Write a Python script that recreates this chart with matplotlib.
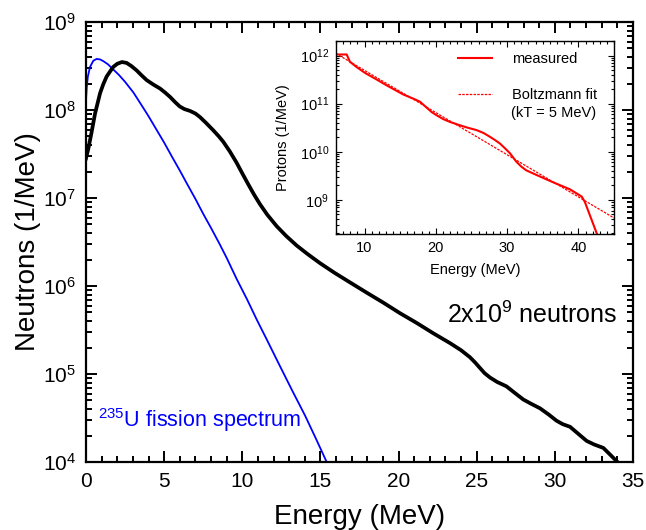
import matplotlib
matplotlib.use('Agg')
import numpy as np
import matplotlib.pyplot as plt
from matplotlib.ticker import MultipleLocator, LogLocator, NullFormatter

plt.rcParams['font.family'] = 'Liberation Sans'
plt.rcParams['mathtext.fontset'] = 'custom'
plt.rcParams['mathtext.rm'] = 'Liberation Sans'
plt.rcParams['mathtext.it'] = 'Liberation Sans:italic'

# measured neutron spectrum (black), values read as log10(neutrons/MeV)
neutron_e = [0.0, 0.15, 0.35, 0.58, 0.9, 1.1, 1.32, 1.55, 1.75, 2.0, 2.3, 2.6, 2.9,
             3.24, 3.55, 3.88, 4.3, 4.73, 5.05, 5.37, 5.7, 6.0, 6.3, 6.65, 7.0,
             7.29, 7.7, 8.14, 8.5, 8.78, 9.2, 9.64, 10.0, 10.4, 10.75, 11.13, 11.6,
             12.2, 12.8, 13.48, 14.2, 14.97, 15.9, 16.9, 18.0, 19.03, 20.1, 21.16,
             22.2, 23.3, 24.0, 24.57, 24.9, 25.2, 25.5, 25.85, 26.3, 26.9, 27.4,
             27.98, 28.5, 29.05, 29.6, 30.1, 30.5, 30.97, 31.5, 32.03, 32.5, 33.1,
             33.5, 33.95]
neutron_log = [7.45, 7.56, 7.74, 7.96, 8.19, 8.29, 8.38, 8.44, 8.49, 8.525, 8.545,
               8.535, 8.50, 8.45, 8.395, 8.34, 8.29, 8.245, 8.20, 8.15, 8.09, 8.04,
               8.01, 7.99, 7.96, 7.92, 7.85, 7.77, 7.70, 7.64, 7.53, 7.40, 7.28,
               7.15, 7.04, 6.93, 6.81, 6.68, 6.57, 6.46, 6.36, 6.26, 6.15, 6.04,
               5.92, 5.81, 5.69, 5.58, 5.465, 5.35, 5.27, 5.19, 5.13, 5.07, 5.01,
               4.96, 4.91, 4.86, 4.79, 4.71, 4.66, 4.61, 4.54, 4.47, 4.43, 4.40,
               4.32, 4.24, 4.20, 4.16, 4.09, 4.01]

# U-235 fission spectrum (blue)
fission_e = [0.0, 0.05, 0.12, 0.26, 0.47, 0.68, 0.9, 1.11, 1.4, 1.75, 2.1, 2.5,
             3.03, 3.5, 4.0, 4.5, 5.0, 5.5, 6.01, 6.5, 7.0, 7.5, 8.0, 8.57, 9.0,
             9.64, 10.3, 10.92, 11.6, 12.41, 13.2, 14.01, 14.7, 15.4]
fission_log = [8.11, 8.26, 8.38, 8.49, 8.56, 8.58, 8.575, 8.555, 8.52, 8.46, 8.40,
               8.32, 8.20, 8.07, 7.93, 7.78, 7.63, 7.47, 7.31, 7.15, 6.99, 6.82,
               6.66, 6.47, 6.32, 6.08, 5.85, 5.62, 5.38, 5.09, 4.81, 4.53, 4.27,
               4.0]

# inset: protons
proton_e = [6.0, 7.5, 7.96, 8.89, 10.05, 11.5, 13.1, 15.43, 17.0, 17.77, 18.7, 19.4,
            20.1, 21.0, 21.97, 23.37, 24.5, 25.7, 26.7, 27.6, 28.3, 29.0, 29.7,
            30.4, 31.3, 32.0, 32.7, 34.1, 36.5, 38.8, 40.47, 40.9, 42.58]
proton_n = [1.05e12, 1.05e12, 7.4e11, 5.75e11, 4.37e11, 3.3e11, 2.4e11, 1.55e11,
            1.24e11, 1.10e11, 8.3e10, 6.7e10, 5.75e10, 4.8e10, 4.17e10, 3.55e10,
            3.15e10, 2.82e10, 2.45e10, 2.04e10, 1.75e10, 1.48e10, 1.18e10, 9.3e9,
            6.2e9, 4.9e9, 4.1e9, 3.3e9, 2.3e9, 1.66e9, 1.17e9, 9.1e8, 2.0e8]

fit_e = [6.0, 45.0]
fit_n = [1.1e12, 4.2e8]

fig = plt.figure(figsize=(6.46, 5.30), dpi=100)
ax = fig.add_axes([0.1331, 0.1283, 0.8468, 0.8302])

ax.plot(fission_e, 10 ** np.array(fission_log), color='#0000ff', lw=1.3)
ax.plot(neutron_e, 10 ** np.array(neutron_log), color='black', lw=2.7)
ax.set_yscale('log')
ax.set_xlim(0, 35)
ax.set_ylim(1e4, 1e9)
ax.xaxis.set_major_locator(MultipleLocator(5))
ax.xaxis.set_minor_locator(MultipleLocator(1))
ax.yaxis.set_major_locator(LogLocator(base=10))
ax.yaxis.set_minor_locator(LogLocator(base=10, subs=[2, 3, 4, 5, 6, 7, 8, 9]))
ax.yaxis.set_minor_formatter(NullFormatter())
ax.tick_params(which='both', direction='in', top=True, right=True, width=1.4,
               labelsize=15, pad=7)
ax.tick_params(which='major', length=8)
ax.tick_params(which='minor', length=4.5)
for s in ax.spines.values():
    s.set_linewidth(1.6)

ax.set_xlabel('Energy (MeV)', fontsize=20)
ax.set_ylabel('Neutrons (1/MeV)', fontsize=20)
ax.xaxis.set_label_coords(0.5, -0.095)
ax.yaxis.set_label_coords(-0.082, 0.5)

ax.text(0.77, 10**4.48, r'$\mathregular{^{235}}$U fission spectrum', color='#0000ff',
        fontsize=15.5, ha='left', va='center')
ax.text(33.97, 10**5.67, r'2x10$\mathregular{^{9}}$ neutrons', color='black',
        fontsize=18, ha='right', va='center')

# inset
ax_in = fig.add_axes([0.5201, 0.5585, 0.4304, 0.3641])
ax_in.plot(proton_e, proton_n, color='red', lw=1.5, label='measured')
ax_in.plot(fit_e, fit_n, color='red', lw=0.9, ls=(0, (2, 1)), label='Boltzmann fit')
ax_in.set_yscale('log')
ax_in.set_xlim(6, 45)
ax_in.set_ylim(1.95e8, 2.0e12)
ax_in.xaxis.set_major_locator(MultipleLocator(10))
ax_in.xaxis.set_minor_locator(MultipleLocator(1))
ax_in.yaxis.set_major_locator(LogLocator(base=10))
ax_in.yaxis.set_minor_locator(LogLocator(base=10, subs=[2, 3, 4, 5, 6, 7, 8, 9]))
ax_in.yaxis.set_minor_formatter(NullFormatter())
ax_in.tick_params(which='both', direction='in', top=True, right=True, width=0.8,
                  labelsize=10.5, pad=5)
ax_in.tick_params(which='major', length=4)
ax_in.tick_params(which='minor', length=2)
for s in ax_in.spines.values():
    s.set_linewidth(1.0)
ax_in.set_xlabel('Energy (MeV)', fontsize=10.5)
ax_in.set_ylabel('Protons (1/MeV)', fontsize=10.5)
ax_in.xaxis.set_label_coords(0.5, -0.15)
ax_in.yaxis.set_label_coords(-0.165, 0.5)

ax_in.legend(loc='upper right', frameon=False, fontsize=10.5, handlelength=2.3,
             handletextpad=1.4, labelspacing=1.5, borderaxespad=0.3,
             bbox_to_anchor=(0.977, 0.995))
ax_in.text(0.63, 0.625, '(kT = 5 MeV)', transform=ax_in.transAxes, fontsize=10.5,
           ha='left', va='center')

fig.savefig('out.png', dpi=100)
